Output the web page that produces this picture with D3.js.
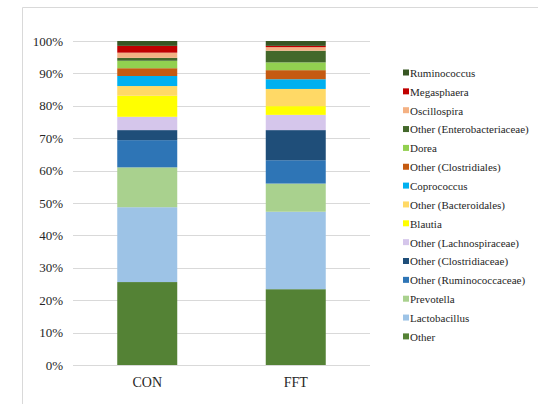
<!DOCTYPE html>
<html>
<head>
<meta charset="utf-8">
<script src="https://cdn.jsdelivr.net/npm/d3@7"></script>
<style>
  html, body { margin: 0; padding: 0; background: #fff; }
  svg { display: block; }
  svg text { font-family: "Liberation Serif", "Tinos", "Times New Roman", serif; }
</style>
</head>
<body>
<svg id="chart" width="538" height="404"></svg>
<script>
// Groups on the x axis
const groups = ["CON", "FFT"];

// Taxa, stacked from the bottom of each bar upward
const taxa = [
  "Other",
  "Lactobacillus",
  "Prevotella",
  "Other (Ruminococcaceae)",
  "Other (Clostridiaceae)",
  "Other (Lachnospiraceae)",
  "Blautia",
  "Other (Bacteroidales)",
  "Coprococcus",
  "Other (Clostridiales)",
  "Dorea",
  "Other (Enterobacteriaceae)",
  "Oscillospira",
  "Megasphaera",
  "Ruminococcus"
];

// Relative abundance (%) per taxon, same order as taxa
const conValues = [25.6, 23.1, 12.3, 8.4, 3.1, 4.1, 6.5, 3.0, 3.1, 2.4, 2.3, 0.9, 1.6, 2.1, 1.5];
const fftValues = [23.4, 23.9, 8.7, 7.2, 9.3, 4.7, 2.7, 5.3, 3.0, 2.8, 2.4, 3.6, 1.1, 0.4, 1.5];

const taxaColors = [
  "#548235", "#9DC3E6", "#A9D18E", "#2E75B6", "#1F4E79",
  "#D5C6EB", "#FFFF00", "#FFD966", "#00B0F0", "#C55A11",
  "#92D050", "#43682B", "#F4B183", "#C00000", "#375623"
];

const tickValues = [0, 10, 20, 30, 40, 50, 60, 70, 80, 90, 100];

// Build rows for the stack layout
const rows = groups.map((g, gi) => {
  const vals = gi === 0 ? conValues : fftValues;
  const row = { group: g };
  taxa.forEach((t, i) => { row[t] = vals[i]; });
  return row;
});

const svg = d3.select("#chart");

// Outer frame (top and left edges)
svg.append("path")
  .attr("d", "M22.5,404 L22.5,7.5 L538,7.5")
  .attr("fill", "none")
  .attr("stroke", "#d9d9d9")
  .attr("stroke-width", 1);

const plot = { left: 73, right: 370, top: 41, bottom: 365 };

const x = d3.scaleBand()
  .domain(groups)
  .range([plot.left, plot.right])
  .paddingInner(0.596)
  .paddingOuter(0.298);

const y = d3.scaleLinear()
  .domain([0, 100])
  .range([plot.bottom, plot.top]);

const color = d3.scaleOrdinal().domain(taxa).range(taxaColors);

// Gridlines
svg.append("g")
  .selectAll("line")
  .data(tickValues)
  .join("line")
  .attr("x1", plot.left)
  .attr("x2", plot.right)
  .attr("y1", d => Math.round(y(d)) + 0.5)
  .attr("y2", d => Math.round(y(d)) + 0.5)
  .attr("stroke", "#d9d9d9")
  .attr("stroke-width", 1);

// Y axis labels
const yAxis = d3.axisLeft(y)
  .tickValues(tickValues)
  .tickFormat(d => d + "%")
  .tickSize(0)
  .tickPadding(10);
const yg = svg.append("g")
  .attr("transform", `translate(${plot.left},0)`)
  .call(yAxis)
  .attr("font-family", null);
yg.select(".domain").remove();
yg.selectAll("text")
  .attr("font-size", 13)
  .attr("fill", "#262626");

// X axis labels
const xAxis = d3.axisBottom(x).tickSize(0).tickPadding(12);
const xg = svg.append("g")
  .attr("transform", `translate(0,${plot.bottom})`)
  .call(xAxis)
  .attr("font-family", null);
xg.select(".domain").remove();
xg.selectAll("text")
  .attr("font-size", 14)
  .attr("fill", "#262626");

// Stacked bars
const series = d3.stack().keys(taxa)(rows);

svg.append("g")
  .selectAll("g")
  .data(series)
  .join("g")
  .attr("fill", d => color(d.key))
  .selectAll("rect")
  .data(d => d)
  .join("rect")
  .attr("x", d => x(d.data.group))
  .attr("width", x.bandwidth())
  .attr("y", d => y(d[1]))
  .attr("height", d => y(d[0]) - y(d[1]));

// Legend (top entry is the last stacked taxon)
const legendTaxa = taxa.slice().reverse();
const legend = svg.append("g")
  .attr("transform", "translate(403,73)");

const item = legend.selectAll("g")
  .data(legendTaxa)
  .join("g")
  .attr("transform", (d, i) => `translate(0,${i * 18.85})`);

item.append("rect")
  .attr("x", 0)
  .attr("y", -3.5)
  .attr("width", 6)
  .attr("height", 6)
  .attr("fill", d => color(d));

item.append("text")
  .attr("x", 7)
  .attr("y", 0)
  .attr("dy", "0.35em")
  .attr("font-size", 11)
  .attr("fill", "#262626")
  .text(d => d);
</script>
</body>
</html>
